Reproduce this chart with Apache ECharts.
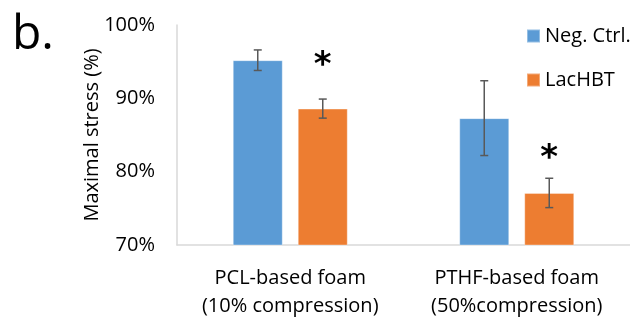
<!DOCTYPE html>
<html>
<head>
<meta charset="utf-8">
<title>Maximal stress</title>
<script src="https://cdn.jsdelivr.net/npm/echarts@6/dist/echarts.min.js"></script>
<style>
  html, body { margin: 0; padding: 0; background: #ffffff; }
  #chart { width: 630px; height: 320px; }
</style>
</head>
<body>
<div id="chart"></div>
<script>
// Foam types on the x axis
const categories = ['PCL-based foam\n(10% compression)', 'PTHF-based foam\n(50%compression)'];
const seriesNames = ['Neg. Ctrl.', 'LacHBT'];

// Maximal stress (%) and standard deviation per foam
const negCtrl = [95.2, 87.3];
const negCtrlErr = [1.4, 5.1];
const lacHBT = [88.6, 77.1];
const lacHBTErr = [1.3, 2.0];

// Height (in %) of the significance asterisk above each LacHBT bar
const starLevel = [95.5, 82.75];

// Value axis
const yMin = 70;
const yMax = 100;
const yStep = 10;

const FONT = '"Open Sans", "Noto Sans", sans-serif';
const BLUE = '#5B9BD5';
const ORANGE = '#ED7D31';
const BAR_W = 50;
const GAP = 15;
const SHIFT = (BAR_W + GAP) / 2;
// The asterisk glyph sits high in its em box; nudge it down so its centre lands on the level
const STAR_DROP = 8;

function errorBars(values, errs) {
  return values.map((v, i) => [i, v, errs[i]]);
}

function renderErrorBar(offset) {
  return function (params, api) {
    const idx = api.value(0);
    const v = api.value(1);
    const e = api.value(2);
    const hi = api.coord([idx, v + e]);
    const lo = api.coord([idx, v - e]);
    const x = hi[0] + offset;
    const cap = 4;
    const style = { stroke: '#595959', lineWidth: 1.5 };
    return {
      type: 'group',
      children: [
        { type: 'line', shape: { x1: x, y1: hi[1], x2: x, y2: lo[1] }, style },
        { type: 'line', shape: { x1: x - cap, y1: hi[1], x2: x + cap, y2: hi[1] }, style },
        { type: 'line', shape: { x1: x - cap, y1: lo[1], x2: x + cap, y2: lo[1] }, style }
      ]
    };
  };
}

function renderStar(params, api) {
  const p = api.coord([api.value(0), api.value(1)]);
  return {
    type: 'text',
    x: p[0] + SHIFT,
    y: p[1] + STAR_DROP,
    style: {
      text: '*',
      fill: '#000000',
      font: 'bold 34px "DejaVu Sans"',
      align: 'center',
      verticalAlign: 'middle'
    }
  };
}

const chart = echarts.init(document.getElementById('chart'), null, { renderer: 'canvas' });

chart.setOption({
  animation: false,
  backgroundColor: '#ffffff',
  title: {
    text: 'b.',
    left: 7,
    top: 6,
    textStyle: { fontFamily: FONT, fontSize: 48, fontWeight: 'normal', color: '#000000' }
  },
  legend: {
    data: seriesNames,
    orient: 'vertical',
    left: 521,
    top: 21,
    itemWidth: 13,
    itemHeight: 13,
    itemGap: 24,
    icon: 'rect',
    textStyle: { fontFamily: FONT, fontSize: 20, color: '#000000' }
  },
  grid: { left: 177, top: 25, width: 455, bottom: 74 },
  xAxis: {
    type: 'category',
    data: categories,
    axisLine: { lineStyle: { color: '#d9d9d9', width: 1.5 } },
    axisTick: { show: false },
    axisLabel: {
      interval: 0,
      margin: 19,
      fontFamily: FONT,
      fontSize: 20,
      lineHeight: 28,
      color: '#000000'
    }
  },
  yAxis: {
    type: 'value',
    min: yMin,
    max: yMax,
    interval: yStep,
    name: 'Maximal stress (%)',
    nameLocation: 'middle',
    nameGap: 75,
    nameMoveOverlap: false,
    nameTextStyle: { fontFamily: FONT, fontSize: 20, color: '#000000' },
    axisLine: { show: true, lineStyle: { color: '#d9d9d9', width: 1.5 } },
    axisTick: { show: false },
    splitLine: { show: false },
    axisLabel: {
      formatter: '{value}%',
      margin: 22,
      fontFamily: FONT,
      fontSize: 20,
      color: '#000000'
    }
  },
  series: [
    {
      name: seriesNames[0],
      type: 'bar',
      data: negCtrl,
      barWidth: BAR_W,
      barGap: (GAP / BAR_W * 100) + '%',
      itemStyle: { color: BLUE, borderColor: 'rgba(255,255,255,0.35)', borderWidth: 1 }
    },
    {
      name: seriesNames[1],
      type: 'bar',
      data: lacHBT,
      barWidth: BAR_W,
      itemStyle: { color: ORANGE, borderColor: 'rgba(255,255,255,0.35)', borderWidth: 1 }
    },
    {
      type: 'custom',
      renderItem: renderErrorBar(-SHIFT),
      data: errorBars(negCtrl, negCtrlErr),
      encode: { x: 0, y: 1 },
      z: 5
    },
    {
      type: 'custom',
      renderItem: renderErrorBar(SHIFT),
      data: errorBars(lacHBT, lacHBTErr),
      encode: { x: 0, y: 1 },
      z: 5
    },
    {
      type: 'custom',
      renderItem: renderStar,
      data: starLevel.map((v, i) => [i, v]),
      encode: { x: 0, y: 1 },
      z: 6
    }
  ]
});
</script>
</body>
</html>
